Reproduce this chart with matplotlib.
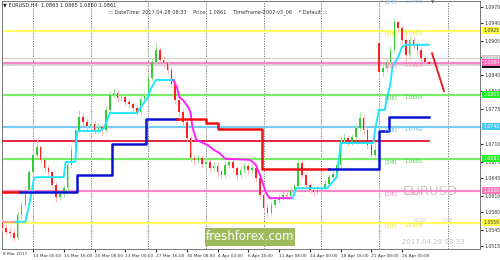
import numpy as np
import matplotlib
matplotlib.use('Agg')
import matplotlib.pyplot as plt
from matplotlib.patches import Rectangle

# EURUSD H4, one candle every 2 bars (bar 0 = 8 Mar 2017 00:00)
bars = np.arange(2, 226, 2)
opens = [1.0561, 1.0549, 1.0542, 1.0539, 1.0530, 1.0574, 1.0593, 1.0622, 1.0656, 1.0688,
         1.0703, 1.0679, 1.0663, 1.0656, 1.0631, 1.0608, 1.0614, 1.0625, 1.0669, 1.0698,
         1.0736, 1.0761, 1.0751, 1.0743, 1.0748, 1.0736, 1.0742, 1.0736, 1.0774, 1.0802,
         1.0806, 1.0797, 1.0799, 1.0789, 1.0785, 1.0778, 1.0770, 1.0795, 1.0801, 1.0835,
         1.0865, 1.0888, 1.0869, 1.0863, 1.0850, 1.0823, 1.0793, 1.0770, 1.0751, 1.0721,
         1.0682, 1.0679, 1.0682, 1.0671, 1.0675, 1.0663, 1.0667, 1.0656, 1.0650, 1.0669,
         1.0675, 1.0663, 1.0650, 1.0660, 1.0667, 1.0660, 1.0663, 1.0644, 1.0612, 1.0587,
         1.0578, 1.0593, 1.0603, 1.0608, 1.0612, 1.0610, 1.0622, 1.0629, 1.0673, 1.0650,
         1.0631, 1.0622, 1.0618, 1.0622, 1.0625, 1.0633, 1.0646, 1.0652, 1.0669, 1.0717,
         1.0721, 1.0713, 1.0722, 1.0740, 1.0759, 1.0736, 1.0707, 1.0688, 1.0901, 1.0846,
         1.0854, 1.0865, 1.0888, 1.0941, 1.0930, 1.0907, 1.0879, 1.0907, 1.0898, 1.0888,
         1.0873, 1.0865]
closes = [1.0549, 1.0542, 1.0539, 1.0530, 1.0574, 1.0593, 1.0622, 1.0656, 1.0688, 1.0703,
          1.0679, 1.0663, 1.0656, 1.0631, 1.0608, 1.0614, 1.0625, 1.0669, 1.0698, 1.0736,
          1.0761, 1.0751, 1.0743, 1.0748, 1.0736, 1.0742, 1.0736, 1.0774, 1.0802, 1.0806,
          1.0797, 1.0799, 1.0789, 1.0785, 1.0778, 1.0770, 1.0795, 1.0801, 1.0835, 1.0865,
          1.0888, 1.0869, 1.0863, 1.0850, 1.0823, 1.0793, 1.0770, 1.0751, 1.0721, 1.0682,
          1.0679, 1.0682, 1.0671, 1.0675, 1.0663, 1.0667, 1.0656, 1.0650, 1.0669, 1.0675,
          1.0663, 1.0650, 1.0660, 1.0667, 1.0660, 1.0663, 1.0644, 1.0612, 1.0587, 1.0578,
          1.0593, 1.0603, 1.0608, 1.0612, 1.0610, 1.0622, 1.0629, 1.0673, 1.0650, 1.0631,
          1.0622, 1.0618, 1.0622, 1.0625, 1.0633, 1.0646, 1.0652, 1.0669, 1.0717, 1.0721,
          1.0713, 1.0722, 1.0740, 1.0759, 1.0736, 1.0707, 1.0688, 1.0698, 1.0846, 1.0854,
          1.0865, 1.0888, 1.0941, 1.0930, 1.0907, 1.0879, 1.0907, 1.0898, 1.0888, 1.0873,
          1.0865, 1.0861]
highs = [1.0566, 1.0556, 1.0550, 1.0545, 1.0580, 1.0601, 1.0630, 1.0662, 1.0697, 1.0718,
         1.0708, 1.0686, 1.0670, 1.0660, 1.0636, 1.0622, 1.0632, 1.0675, 1.0705, 1.0744,
         1.0774, 1.0768, 1.0757, 1.0756, 1.0752, 1.0750, 1.0747, 1.0781, 1.0810, 1.0816,
         1.0812, 1.0806, 1.0804, 1.0795, 1.0790, 1.0783, 1.0801, 1.0808, 1.0842, 1.0872,
         1.0903, 1.0894, 1.0876, 1.0868, 1.0855, 1.0829, 1.0798, 1.0776, 1.0756, 1.0726,
         1.0690, 1.0691, 1.0688, 1.0684, 1.0681, 1.0674, 1.0672, 1.0662, 1.0676, 1.0683,
         1.0680, 1.0668, 1.0667, 1.0674, 1.0672, 1.0670, 1.0668, 1.0648, 1.0616, 1.0594,
         1.0600, 1.0609, 1.0614, 1.0619, 1.0618, 1.0628, 1.0635, 1.0681, 1.0678, 1.0655,
         1.0637, 1.0628, 1.0629, 1.0632, 1.0640, 1.0652, 1.0660, 1.0676, 1.0724, 1.0730,
         1.0727, 1.0729, 1.0747, 1.0770, 1.0764, 1.0741, 1.0713, 1.0712, 1.0907, 1.0862,
         1.0872, 1.0895, 1.0949, 1.0946, 1.0935, 1.0912, 1.0914, 1.0913, 1.0904, 1.0893,
         1.0878, 1.0867]
lows = [1.0544, 1.0536, 1.0532, 1.0524, 1.0527, 1.0566, 1.0588, 1.0615, 1.0650, 1.0680,
        1.0672, 1.0657, 1.0648, 1.0625, 1.0598, 1.0602, 1.0609, 1.0620, 1.0663, 1.0692,
        1.0730, 1.0744, 1.0735, 1.0737, 1.0728, 1.0730, 1.0727, 1.0731, 1.0769, 1.0796,
        1.0790, 1.0791, 1.0783, 1.0778, 1.0771, 1.0764, 1.0765, 1.0788, 1.0796, 1.0830,
        1.0860, 1.0863, 1.0856, 1.0843, 1.0815, 1.0786, 1.0762, 1.0744, 1.0713, 1.0675,
        1.0670, 1.0673, 1.0664, 1.0666, 1.0655, 1.0657, 1.0648, 1.0642, 1.0645, 1.0664,
        1.0656, 1.0643, 1.0645, 1.0654, 1.0652, 1.0654, 1.0637, 1.0605, 1.0580, 1.0570,
        1.0574, 1.0588, 1.0597, 1.0602, 1.0604, 1.0606, 1.0617, 1.0625, 1.0644, 1.0625,
        1.0615, 1.0611, 1.0612, 1.0616, 1.0620, 1.0628, 1.0640, 1.0647, 1.0664, 1.0710,
        1.0706, 1.0707, 1.0716, 1.0734, 1.0729, 1.0699, 1.0679, 1.0682, 1.0838, 1.0838,
        1.0847, 1.0860, 1.0882, 1.0922, 1.0900, 1.0865, 1.0874, 1.0891, 1.0881, 1.0866,
        1.0859, 1.0857]

# Murrey math levels
mm_names = ['[8/8]', '[7/8]', '[6/8]', '[5/8]', '[4/8]', '[3/8]', '[2/8]', '[1/8]']
mm_levels = [1.0986, 1.0925, 1.0864, 1.0803, 1.0742, 1.0681, 1.0620, 1.0559]
mm_colors = ['#8fb4e3', '#e6e600', '#ff7fbf', '#55cc55', '#55bbee', '#55cc55', '#ff7fbf', '#e6e600']
line_colors = [None, '#ffff66', '#ff88c8', '#77ee66', '#77ccf5', '#77ee66', '#ff88c8', '#ffff66']
resist_level = 1.0715
ask_level = 1.0872
bid_level = 1.0861

# trend line 1 (salmon / cyan / magenta / cyan)
t1a_x = [2, 9]
t1a_y = [1.0561, 1.0561]
t1b_x = [9, 14, 16, 17.5, 18.5, 20, 34, 35, 40, 41, 53, 55, 58, 72, 73, 78, 79, 82, 91]
t1b_y = [1.0561, 1.0561, 1.0593, 1.0622, 1.0644, 1.0646, 1.0646, 1.0675, 1.0675, 1.0734,
         1.0734, 1.0740, 1.0768, 1.0768, 1.0774, 1.0799, 1.0812, 1.0831, 1.0831]
t1c_x = [91, 93, 94, 96, 99, 100, 101, 103, 109, 112, 115, 118, 131, 134, 137, 139, 141, 153]
t1c_y = [1.0831, 1.0816, 1.0799, 1.0793, 1.0778, 1.0768, 1.0740, 1.0717, 1.0707, 1.0698,
         1.0692, 1.0681, 1.0679, 1.0669, 1.0641, 1.0618, 1.0606, 1.0606]
t1d_x = [153, 155, 171, 176, 177, 178, 195, 196, 198, 201, 202, 204, 205, 208, 210, 212, 224]
t1d_y = [1.0606, 1.0625, 1.0625, 1.0646, 1.0673, 1.0711, 1.0711, 1.0736, 1.0774, 1.0774,
         1.0793, 1.0825, 1.0856, 1.0875, 1.0894, 1.0898, 1.0898]

# trend line 2 (red / blue steps)
t2_red1_x = [2, 11]
t2_red1_y = [1.0618, 1.0618]
t2_blue1_x = [11, 41, 41, 59, 59, 77, 77, 93]
t2_blue1_y = [1.0618, 1.0618, 1.0650, 1.0650, 1.0709, 1.0709, 1.0757, 1.0757]
t2_red2_x = [93, 108, 108, 114, 114, 137, 137, 172]
t2_red2_y = [1.0757, 1.0757, 1.0749, 1.0749, 1.0738, 1.0738, 1.0662, 1.0662]
t2_blue2_x = [172, 198, 198, 203, 203, 224]
t2_blue2_y = [1.0662, 1.0662, 1.0734, 1.0734, 1.0761, 1.0761]

proj_x = [225.6, 231.8]
proj_y = [1.0882, 1.0810]

grid_bars = [18, 48, 78, 108, 138, 168, 198, 234]
tick_bars = [18, 34, 50, 66, 82, 98, 114, 130, 146, 162, 178, 194, 210]
tick_labels = ['13 Mar 00:00', '15 Mar 16:00', '20 Mar 08:00', '23 Mar 00:00', '27 Mar 16:00',
               '30 Mar 08:00', '4 Apr 00:00', '6 Apr 16:00', '11 Apr 08:00', '14 Apr 00:00',
               '18 Apr 16:00', '21 Apr 08:00', '26 Apr 00:00']
price_ticks = [1.0970, 1.0940, 1.0905, 1.0875, 1.0840, 1.0810, 1.0775, 1.0710,
               1.0675, 1.0645, 1.0610, 1.0580, 1.0545, 1.0515]

W, H = 500, 260
fig = plt.figure(figsize=(5, 2.6), dpi=100)
fig.patch.set_facecolor('white')
ax = fig.add_axes([2 / W, 11 / H, 478 / W, 248 / H])
ax.set_xlim(1.87, 250.57)
ax.set_ylim(1.05092, 1.09814)


def fp(x, y):
    return x / W, 1 - y / H


for b in grid_bars:
    ax.axvline(b, color='#666666', lw=0.6, ls=(0, (1.5, 1.5)), zorder=1)

# level lines
for lev, col in zip(mm_levels, line_colors):
    if col:
        ax.axhline(lev, color=col, lw=1.6, zorder=2)
ax.axhline(ask_level, color='#cccccc', lw=0.8, zorder=2)
ax.axhline(bid_level, color='#d5d5d5', lw=2.0, zorder=1.5)
ax.plot([2, 224], [resist_level, resist_level], color='#e0143c', lw=1.3, zorder=3)

# candles
for b, o, c, h, l in zip(bars, opens, closes, highs, lows):
    up = c >= o
    ax.vlines(b, l, h, color='#a8e6a0' if up else '#ffb3b3', lw=0.7, zorder=4)
    ax.add_patch(Rectangle((b - 0.4, min(o, c)), 0.8, max(abs(c - o), 0.00008),
                           facecolor='#33cc33' if up else '#ff2020', lw=0, zorder=5))

# trend lines
ax.plot(t1a_x, t1a_y, color='#ff9090', lw=1.2, zorder=6)
ax.plot(t1b_x, t1b_y, color='#22e5ff', lw=1.4, zorder=6)
ax.plot(t1c_x, t1c_y, color='#ff22ff', lw=1.4, zorder=6)
ax.plot(t1d_x, t1d_y, color='#22e5ff', lw=1.4, zorder=6)
ax.plot(t2_red1_x, t2_red1_y, color='#ee1111', lw=1.8, zorder=6)
ax.plot(t2_blue1_x, t2_blue1_y, color='#0a14d0', lw=1.8, zorder=6)
ax.plot(t2_red2_x, t2_red2_y, color='#ee1111', lw=1.8, zorder=6)
ax.plot(t2_blue2_x, t2_blue2_y, color='#0a14d0', lw=1.8, zorder=6)
ax.plot(proj_x, proj_y, color='#ee1111', lw=1.3, zorder=6)

# murrey labels
for name, lev, col in zip(mm_names, mm_levels, mm_colors):
    ax.text(201, lev - 0.0001, name, color=col, fontsize=3.8, va='top', ha='left', zorder=7)
    ax.text(211.5, lev - 0.0001, '%.4f' % lev, color=col, fontsize=3.8, va='top', ha='left',
            zorder=7)

ax.text(210.5, 1.0618, 'EURUSD', color='#c8c8c8', fontsize=9.5, va='center', ha='left', zorder=1)
ax.text(216, 1.0563, 'HIGH', color='#cccccc', fontsize=3.6, va='center', ha='left')
ax.text(230.5, 1.0563, 'LOW', color='#cccccc', fontsize=3.6, va='center', ha='left')
ax.text(210, 1.0523, '2017.04.28 08:33', color='#c4c4c4', fontsize=5, va='center', ha='left')
ax.text(226, 1.0978, '\u25bc', color='#555555', fontsize=3.2, va='center', ha='center')

# x axis
ax.set_xticks(tick_bars)
ax.set_xticklabels(tick_labels)
for t in ax.get_xticklabels():
    t.set_ha('left')
ax.tick_params(axis='x', labelsize=3.1, length=2, pad=1.5, colors='#333333', direction='out')
fig.text(*fp(3, 254), '8 Mar 2017', fontsize=3.1, color='#333333', va='center', ha='left')

# y axis on the right
ax.yaxis.tick_right()
ax.set_yticks(price_ticks)
ax.set_yticklabels(['%.4f' % p for p in price_ticks])
ax.tick_params(axis='y', labelsize=3.3, length=2, pad=1, colors='#333333')

for s in ax.spines.values():
    s.set_color('#777777')
    s.set_linewidth(0.7)


def price_box(lev, text, fc, tc):
    ax.annotate(text, xy=(1.0, lev), xycoords=('axes fraction', 'data'),
                xytext=(2.3, 0), textcoords='offset points', fontsize=3.3, color=tc,
                va='center', ha='left', annotation_clip=False, zorder=9,
                bbox=dict(boxstyle='square,pad=0.2', fc=fc, ec='none'))


price_box(1.0925, '1.0925', '#ffff44', '#333333')
price_box(ask_level, '1.0872', '#c8c8c8', '#ffffff')
price_box(bid_level, '1.0861', '#111111', '#ffffff')
price_box(1.0864, '1.0864', '#ff66b3', '#ffffff')
price_box(1.0803, '1.0803', '#22ee22', '#ffffff')
price_box(1.0742, '1.0742', '#44c8f0', '#ffffff')
price_box(1.0681, '1.0681', '#22ee22', '#ffffff')
price_box(1.0620, '1.0620', '#ff77bb', '#ffffff')
price_box(1.0559, '1.0559', '#ffff44', '#333333')

# header texts
fig.text(*fp(3, 5), '\u25bc EURUSD,H4  1.0863 1.0865 1.0860 1.0861', fontsize=3.6,
         color='#222222', va='center', ha='left')
fig.text(*fp(108, 12), '::: DateTime: 2017.04.28 08:33    Price: 1.0861    '
         'TimeFrame-2007-v3_06    * Default :::', fontsize=3.6, color='#333333',
         va='center', ha='left')

# logo
fig.patches.append(Rectangle(fp(205, 246), 90 / W, 18 / H, transform=fig.transFigure,
                             facecolor='#9dbb5c', edgecolor='none', zorder=8))
fig.text(*fp(250, 237), 'freshforex.com', fontsize=8.5, color='white', va='center',
         ha='center', zorder=9)

fig.savefig('out.png', dpi=100)
